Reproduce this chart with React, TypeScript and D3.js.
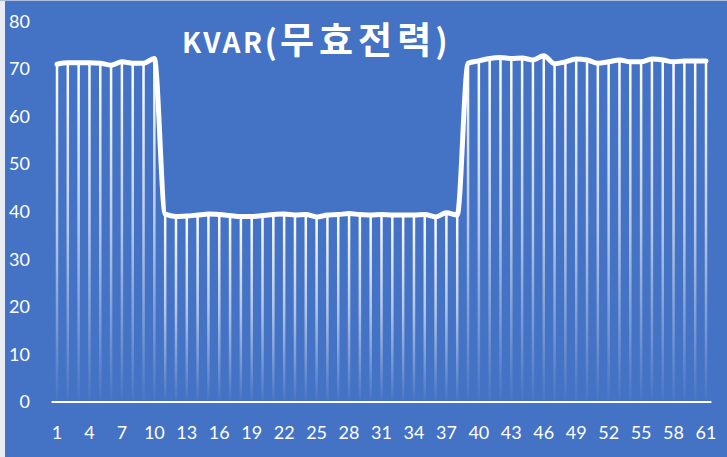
import * as d3 from 'd3';
import React from 'react';

// KVAR readings, one per sample (1..61)
const firstHigh = [71.0, 71.3, 71.3, 71.3, 71.2, 70.8, 71.5, 71.2, 71.2, 72.2];
const lowPart = [39.5, 39.0, 39.1, 39.3, 39.5, 39.4, 39.2, 39.0, 39.0, 39.2,
    39.4, 39.5, 39.3, 39.4, 38.9, 39.3, 39.4, 39.6, 39.4, 39.3,
    39.4, 39.3, 39.3, 39.3, 39.4, 38.9, 39.8, 39.3];
const secondHigh = [71.2, 71.7, 72.2, 72.4, 72.2, 72.3, 71.9, 72.8, 71.1, 71.5,
    72.1, 71.9, 71.2, 71.5, 71.9, 71.5, 71.5, 72.1, 71.9, 71.5, 71.7, 71.7, 71.7];
const values = [...firstHigh, ...lowPart, ...secondHigh];
const categories = values.map((_, i) => i + 1);
const xTickLabels = [1, 4, 7, 10, 13, 16, 19, 22, 25, 28, 31, 34, 37, 40, 43, 46, 49, 52, 55, 58, 61];
const yTicks = [0, 10, 20, 30, 40, 50, 60, 70, 80];
const title = 'KVAR(무효전력)';

const W = 727, H = 457;
const BG = '#4472c4';
const LABEL_FONT = 'Lato, "Open Sans", sans-serif';
const TITLE_FONT = '"Noto Sans CJK KR", "Noto Sans", sans-serif';

export default function App() {
    const x = d3.scalePoint<number>()
        .domain(categories)
        .range([57, 706]);
    const step = x.step();

    const y = d3.scaleLinear()
        .domain([0, 80])
        .range([402, 21.4]);

    // monotone keeps the smoothing from overshooting at the steps
    const line = d3.line<number>()
        .x((d, i) => x(categories[i]) as number)
        .y(d => y(d))
        .curve(d3.curveMonotoneX);

    return (
        <svg width={W} height={H} style={{position: 'absolute', left: 0, top: 0, display: 'block'}}>
            <defs>
                <linearGradient id="drop" x1="0" y1="0" x2="0" y2="1">
                    <stop offset="0" stopColor="#fff" stopOpacity={1}/>
                    <stop offset="0.5" stopColor="#fff" stopOpacity={0.6}/>
                    <stop offset="1" stopColor="#fff" stopOpacity={0.02}/>
                </linearGradient>
            </defs>
            <rect x={0} y={0} width={W} height={H} fill={BG}/>
            {/* frame left over from the screenshot */}
            <rect x={0} y={0} width={5} height={H} fill="#e9ecf2"/>
            <rect x={0} y={0} width={W} height={1} fill="#aebfe0"/>

            {/* drop lines */}
            {values.map((v, i) => (
                <rect key={i}
                    x={(x(categories[i]) as number) - 1.25}
                    y={y(v)}
                    width={2.5}
                    height={y(0) - y(v)}
                    fill="url(#drop)"/>
            ))}

            {/* category axis */}
            <line x1={x(1)! - step / 2} x2={x(61)! + step / 2} y1={y(0)} y2={y(0)}
                stroke="#fff" strokeWidth={2}/>

            <path d={line(values) || ''} fill="none" stroke="#fff" strokeWidth={5}
                strokeLinejoin="round" strokeLinecap="round"/>

            {yTicks.map(t => (
                <text key={t} x={30} y={y(t)} dy="0.35em" textAnchor="end"
                    fill="#fff" fontSize={18} fontFamily={LABEL_FONT}>{t}</text>
            ))}
            {xTickLabels.map(t => (
                <text key={t} x={x(t)} y={439} textAnchor="middle"
                    fill="#fff" fontSize={18} fontFamily={LABEL_FONT}>{t}</text>
            ))}

            {/* one text run; sizes differ between the latin and hangul parts */}
            <text x={182} y={53} fill="#fff" fontWeight="bold" fontFamily={TITLE_FONT}>
                <tspan fontSize={28} letterSpacing={2.5}>{title.slice(0, 4)}</tspan>
                <tspan fontSize={33} fontWeight={600} dy={1}>{title.slice(4, 5)}</tspan>
                <tspan fontSize={37} fontWeight={600} letterSpacing={5} dx={3}>{title.slice(5, 8)}</tspan>
                <tspan fontSize={37} fontWeight={600}>{title.slice(8, 9)}</tspan>
                <tspan fontSize={33} fontWeight={600} dx={4} dy={-1}>{title.slice(9)}</tspan>
            </text>
        </svg>
    );
}
